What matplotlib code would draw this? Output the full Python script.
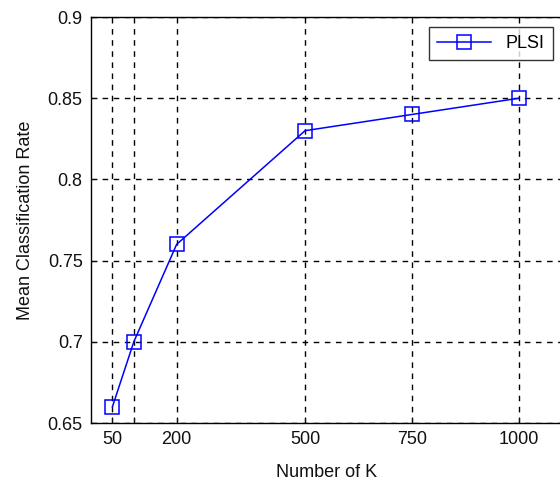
import matplotlib
matplotlib.use("Agg")
import matplotlib.pyplot as plt

# ----- Data -----
k_values = [50, 100, 200, 500, 750, 1000]
rates = [0.66, 0.70, 0.76, 0.83, 0.84, 0.85]
x_ticks = [50, 100, 200, 500, 750, 1000]
x_tick_labels = ["50", "", "200", "500", "750", "1000"]
y_ticks = [0.65, 0.7, 0.75, 0.8, 0.85, 0.9]
y_tick_labels = ["0.65", "0.7", "0.75", "0.8", "0.85", "0.9"]

plt.rcParams["font.family"] = ["Liberation Sans", "DejaVu Sans"]

fig = plt.figure(figsize=(5.6, 4.88), dpi=100)
ax = fig.add_axes([91 / 560, 1 - 423 / 488, 471 / 560, 406 / 488])

ax.plot(k_values, rates, color="blue", lw=1.1, marker="s", markersize=10,
        markerfacecolor="none", markeredgecolor="blue", markeredgewidth=1.1,
        label="PLSI")

ax.set_xlim(0, 1100)
ax.set_ylim(0.65, 0.9)
ax.set_xticks(x_ticks)
ax.set_xticklabels(x_tick_labels)
ax.set_yticks(y_ticks)
ax.set_yticklabels(y_tick_labels)

ax.grid(True, color="black", linestyle=(0, (4, 4)), linewidth=1.0)
ax.tick_params(direction="in", length=4, labelsize=13, colors="#111111", pad=6)
for s in ax.spines.values():
    s.set_linewidth(1.0)

ax.set_xlabel("Number of K", fontsize=13, labelpad=11, color="#111111")
ax.set_ylabel("Mean Classification Rate", fontsize=13, labelpad=10, color="#111111")

leg = ax.legend(loc="upper right", bbox_to_anchor=(553 / 560, 1 - 27 / 488),
                bbox_transform=fig.transFigure, fontsize=13, frameon=True,
                fancybox=False, edgecolor="black", handlelength=3.0,
                borderpad=0.45, borderaxespad=0)
leg.get_frame().set_linewidth(1.0)

plt.savefig("out.png", dpi=100)
